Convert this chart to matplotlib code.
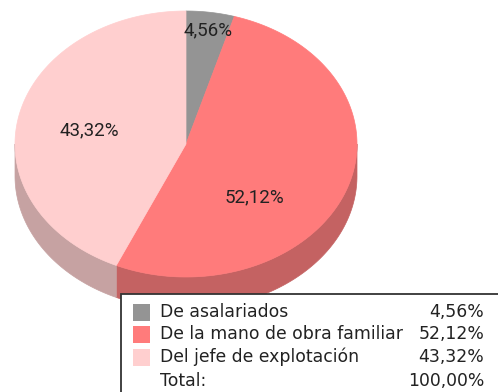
import numpy as np
import matplotlib
matplotlib.use("Agg")
from matplotlib import pyplot as plt
from matplotlib.patches import Polygon, Rectangle

# shares of labour (%)
categories = ["De asalariados", "De la mano de obra familiar", "Del jefe de explotación"]
values = [4.56, 52.12, 43.32]
top_colors = ["#949494", "#FF7B7B", "#FFCFCF"]
side_colors = ["#6E6E6E", "#C46262", "#C6A2A2"]

# where the percentage text sits on each slice (px)
label_pos = [(208, 30), (254, 197), (89, 130)]

W, H = 498, 392
cx, cy = 186, 144      # centre of top ellipse (px)
rx, ry = 171, 133      # radii
depth = 32             # thickness of the disc

def fmt(v):
  return ("%.2f%%" % v).replace(".", ",")

def pt(theta, dy=0):
  # theta in degrees, clockwise from 12 o'clock
  t = np.radians(theta)
  return cx + rx*np.sin(t), cy - ry*np.cos(t) + dy

fig = plt.figure(figsize=(W/100, H/100), dpi=100)
ax = fig.add_axes([0, 0, 1, 1])
ax.set_xlim(0, W)
ax.set_ylim(H, 0)
ax.axis("off")

total = sum(values)
bounds = np.concatenate([[0], np.cumsum(values)]) / total * 360

# sides: only the front half (90..270 deg) is visible
for i in range(len(values)):
  a, b = max(bounds[i], 90), min(bounds[i+1], 270)
  if a >= b:
    continue
  ts = np.linspace(a, b, 100)
  topArc = [pt(t) for t in ts]
  botArc = [pt(t, depth) for t in ts[::-1]]
  ax.add_patch(Polygon(topArc + botArc, closed=True, facecolor=side_colors[i],
                       edgecolor=side_colors[i], lw=0.5))

# top face
for i in range(len(values)):
  ts = np.linspace(bounds[i], bounds[i+1], 200)
  verts = [(cx, cy)] + [pt(t) for t in ts]
  ax.add_patch(Polygon(verts, closed=True, facecolor=top_colors[i],
                       edgecolor=top_colors[i], lw=0.5))

# percentage labels on slices
for i, v in enumerate(values):
  ax.text(label_pos[i][0], label_pos[i][1], fmt(v), ha="center", va="center",
          fontsize=13.5, family="Roboto", color="#222222")

# legend box in lower right corner
ax.add_patch(Rectangle((121, 294), 400, 120, facecolor="white", edgecolor="#333333", lw=1.3, zorder=5))
rowY = [312, 334, 357]
for i, name in enumerate(categories):
  ax.add_patch(Rectangle((133, rowY[i]-8.5), 17, 17, facecolor=top_colors[i], edgecolor="none", zorder=6))
  ax.text(160, rowY[i], name, ha="left", va="center", fontsize=12.4,
          family="DejaVu Sans", color="#222222", zorder=6)
  ax.text(484, rowY[i], fmt(values[i]), ha="right", va="center", fontsize=12.4,
          family="DejaVu Sans", color="#222222", zorder=6)
ax.text(160, 381, "Total:", ha="left", va="center", fontsize=12.4,
        family="DejaVu Sans", color="#222222", zorder=6)
ax.text(484, 381, fmt(total), ha="right", va="center", fontsize=12.4,
        family="DejaVu Sans", color="#222222", zorder=6)

fig.savefig("out.png", dpi=100)
